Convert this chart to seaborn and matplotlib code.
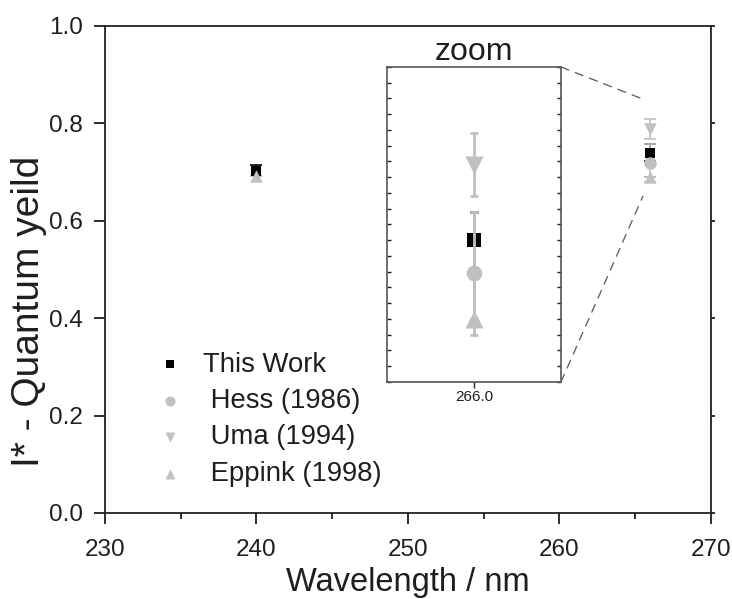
import matplotlib
matplotlib.use("Agg")
import matplotlib.pyplot as plt
from matplotlib.patches import ConnectionPatch
from matplotlib.ticker import MultipleLocator, FixedLocator
import seaborn as sns
import pandas as pd

# ---------------- data ----------------
series_names = ["This Work", " Hess (1986)", " Uma (1994)", " Eppink (1998)"]
this_wl = [240, 266]
this_val = [0.703, 0.740]
this_err = [0.012, 0.018]
hess_wl = [266]
hess_val = [0.719]
hess_err = [0.039]
uma_wl = [266]
uma_val = [0.788]
uma_err = [0.020]
eppink_wl = [240, 266]
eppink_val = [0.693, 0.690]
eppink_err = [0.0, 0.0]

x_ticks = [230, 240, 250, 260, 270]
y_ticks = [0.0, 0.2, 0.4, 0.6, 0.8, 1.0]
inset_xlim = (265.5, 266.5)
inset_ylim = (0.65, 0.85)
inset_xtick = [266.0]

# ---------------- style ----------------
sns.set_theme(style="ticks")
plt.rcParams["font.family"] = ["Liberation Sans", "DejaVu Sans"]
TXT = "#1e1e1e"
plt.rcParams["text.color"] = TXT
plt.rcParams["axes.labelcolor"] = TXT
plt.rcParams["xtick.color"] = TXT
plt.rcParams["ytick.color"] = TXT

BLACK = "#000000"
GREY = "#c0c0c0"

series = [
    (series_names[0], this_wl, this_val, this_err, "s", BLACK),
    (series_names[1], hess_wl, hess_val, hess_err, "o", GREY),
    (series_names[2], uma_wl, uma_val, uma_err, "v", GREY),
    (series_names[3], eppink_wl, eppink_val, eppink_err, "^", GREY),
]
main_ms = {"s": 7.8, "o": 9.0, "v": 9.0, "^": 9.0}
inset_ms = {"s": 10.0, "o": 11.3, "v": 13.0, "^": 13.0}

fig = plt.figure(figsize=(7.32, 5.99), dpi=100)
ax = fig.add_axes([0.1434, 0.1436, 0.9713 - 0.1434, 0.9566 - 0.1436])

for name, wl, val, err, mk, col in series:
    df = pd.DataFrame({"wavelength": wl, "value": val})
    ax.errorbar(wl, val, yerr=err, fmt="none", ecolor=col, elinewidth=1.2,
                capsize=4, capthick=1.2, zorder=2)
    sns.scatterplot(data=df, x="wavelength", y="value", marker=mk, color=col,
                    s=main_ms[mk] ** 2, linewidth=0, label=name, ax=ax, zorder=3)

ax.set_xlim(230, 270)
ax.set_ylim(0.0, 1.0)
ax.xaxis.set_major_locator(FixedLocator(x_ticks))
ax.xaxis.set_minor_locator(MultipleLocator(5))
ax.yaxis.set_major_locator(FixedLocator(y_ticks))
ax.set_xticklabels([str(t) for t in x_ticks])
ax.set_yticklabels([f"{t:.1f}" for t in y_ticks])
ax.tick_params(axis="x", which="major", direction="out", length=8, width=1.3,
               labelsize=17.5, pad=11)
ax.tick_params(axis="y", which="major", direction="out", length=8, width=1.3,
               labelsize=17.5, pad=8)
ax.tick_params(axis="x", which="minor", direction="out", length=4, width=1.3)
ax.tick_params(axis="y", which="major", right=True, labelright=False)
for tk in ax.yaxis.get_major_ticks():
    tk.tick2line.set_markersize(3)
for sp in ax.spines.values():
    sp.set_visible(True)
    sp.set_linewidth(1.3)
    sp.set_color("#222222")
ax.set_xlabel("Wavelength / nm", fontsize=23.5, labelpad=4)
ax.set_ylabel("I* - Quantum yeild", fontsize=28)
ax.yaxis.set_label_coords(-0.095, 0.413)

leg = ax.legend(loc="upper left", bbox_to_anchor=(0.062, 0.354), frameon=False,
                fontsize=19.8, markerscale=0.8, labelspacing=0.38,
                handlelength=1.2, handletextpad=0.6, borderaxespad=0)

# ---------------- inset ----------------
axin = fig.add_axes([0.5287, 0.3623, 0.2377, 0.5259])
for name, wl, val, err, mk, col in series:
    df = pd.DataFrame({"wavelength": wl, "value": val})
    axin.errorbar(wl, val, yerr=err, fmt="none", ecolor=col, elinewidth=2,
                  capsize=3, capthick=2, zorder=2)
    sns.scatterplot(data=df, x="wavelength", y="value", marker=mk, color=col,
                    s=inset_ms[mk] ** 2, linewidth=0, legend=False, ax=axin, zorder=3)
# Hess errorbar line drawn over the square
axin.errorbar(hess_wl, hess_val, yerr=hess_err, fmt="none", ecolor=GREY,
              elinewidth=2, capsize=0, zorder=4)
axin.set_xlim(*inset_xlim)
axin.set_ylim(*inset_ylim)
axin.xaxis.set_major_locator(FixedLocator(inset_xtick))
axin.set_xticklabels([f"{t:.1f}" for t in inset_xtick])
axin.yaxis.set_major_locator(MultipleLocator(0.01))
axin.tick_params(axis="y", which="major", direction="in", length=3, width=1,
                 left=True, right=True, labelleft=False)
axin.tick_params(axis="x", which="major", direction="out", length=4, width=1,
                 labelsize=11, top=False, pad=2)
axin.set_xlabel("")
axin.set_ylabel("")
for sp in axin.spines.values():
    sp.set_visible(True)
    sp.set_linewidth(1.2)
    sp.set_color("#555555")
axin.set_title("zoom", fontsize=23, pad=0)

# connector lines from inset corners to the zoomed region
for ya, yb in [(1, inset_ylim[1]), (0, inset_ylim[0])]:
    con = ConnectionPatch(xyA=(1, ya), coordsA=axin.transAxes,
                          xyB=(inset_xlim[0], yb), coordsB=ax.transData,
                          linestyle=(0, (6, 5)), color="#666666", linewidth=1.0)
    fig.add_artist(con)

fig.savefig("out.png", dpi=100)
